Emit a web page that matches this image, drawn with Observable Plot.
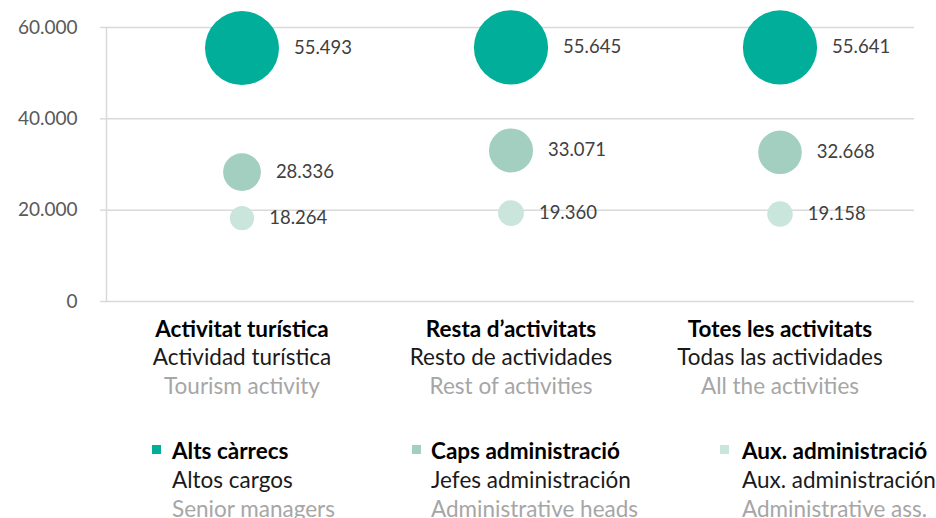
<!DOCTYPE html>
<html><head><meta charset="utf-8">
<script src="https://cdn.jsdelivr.net/npm/d3@7"></script>
<script src="https://cdn.jsdelivr.net/npm/@observablehq/plot@0.6"></script>
<style>
body{margin:0;background:#fff;font-family:Lato,sans-serif;}
#wrap{position:relative;width:936px;height:518px;overflow:hidden;}
#legend{position:absolute;left:0;top:0;width:936px;height:518px;pointer-events:none;}
.ln{position:absolute;font-size:22.5px;line-height:27px;height:27px;white-space:nowrap;}
.sw{position:absolute;width:9px;height:9px;}
.ca{font-weight:bold;color:#000;}
.es{color:#1a1a1a;}
.en{color:#a6a6a6;}
</style></head><body><div id="wrap"><div id="chart"></div><div id="legend"></div></div>
<script>
const categories = ["Activitat turística", "Resta d’activitats", "Totes les activitats"];
const categoriesEs = ["Actividad turística", "Resto de actividades", "Todas las actividades"];
const categoriesEn = ["Tourism activity", "Rest of activities", "All the activities"];
const series = ["Alts càrrecs", "Caps administració", "Aux. administració"];
const seriesEs = ["Altos cargos", "Jefes administración", "Aux. administración"];
const seriesEn = ["Senior managers", "Administrative heads", "Administrative ass."];
const altsCarrecs = [55493, 55645, 55641];
const capsAdministracio = [28336, 33071, 32668];
const auxAdministracio = [18264, 19360, 19158];
const yTicks = [0, 20000, 40000, 60000];
const colors = ["#00ae9a", "#a2cfc0", "#cae5db"];

const seriesValues = [altsCarrecs, capsAdministracio, auxAdministracio];
const rows = [];
series.forEach((s, i) => categories.forEach((c, j) => rows.push({cat: c, series: s, value: seriesValues[i][j]})));

const fmt = d3.formatLocale({decimal: ",", thousands: ".", grouping: [3]}).format(",d");
const rMax = 60000, rRange = 40;
const rOf = v => v / rMax * rRange;

const chart = Plot.plot({
  width: 936, height: 410,
  marginTop: 27, marginLeft: 106, marginRight: 22, marginBottom: 109,
  style: {fontFamily: "Lato, sans-serif", fontSize: "19px", color: "#595959", background: "#fff", overflow: "visible"},
  x: {type: "band", domain: categories, padding: 0, axis: null},
  y: {domain: [0, 60000], axis: null},
  r: {type: "linear", domain: [0, rMax], range: [0, rRange]},
  color: {domain: series, range: colors},
  marks: [
    Plot.gridY(yTicks, {stroke: "#d9d9d9", strokeOpacity: 1, strokeWidth: 1.5}),
    Plot.axisY(yTicks, {label: null, tickFormat: fmt, tickSize: 6, tickPadding: 23, stroke: "#d9d9d9", strokeWidth: 1.5, fill: "#595959", fontSize: 19}),
    Plot.frame({anchor: "left", stroke: "#d9d9d9", strokeWidth: 1.5}),
    Plot.dot(rows, {x: "cat", y: "value", r: "value", fill: "series", stroke: null}),
    ...rows.map(d => Plot.text([d], {x: "cat", y: "value", text: r => fmt(r.value), dx: rOf(d.value) + 15, textAnchor: "start", fill: "#404040", fontSize: 18.5})),
    Plot.text(categories, {x: d => d, frameAnchor: "bottom", dy: 35, text: d => d, fontWeight: "bold", fill: "#000", fontSize: 22.5}),
    Plot.text(categories, {x: d => d, frameAnchor: "bottom", dy: 63, text: (d, i) => categoriesEs[i], fill: "#1a1a1a", fontSize: 22.5}),
    Plot.text(categories, {x: d => d, frameAnchor: "bottom", dy: 92, text: (d, i) => categoriesEn[i], fill: "#a6a6a6", fontSize: 22.5})
  ]
});
document.getElementById("chart").appendChild(chart);

const legendText = [172, 431, 742];
const legendSwatch = [152, 412, 720];
const lineTops = [437, 466, 495];
const legend = document.getElementById("legend");
series.forEach((s, i) => {
  const sw = document.createElement("div");
  sw.className = "sw";
  sw.style.left = legendSwatch[i] + "px";
  sw.style.top = "445px";
  sw.style.background = colors[i];
  legend.appendChild(sw);
  [[s, "ca"], [seriesEs[i], "es"], [seriesEn[i], "en"]].forEach(([t, cls], k) => {
    const div = document.createElement("div");
    div.className = "ln " + cls;
    div.style.left = legendText[i] + "px";
    div.style.top = lineTops[k] + "px";
    div.textContent = t;
    legend.appendChild(div);
  });
});
</script></body></html>
